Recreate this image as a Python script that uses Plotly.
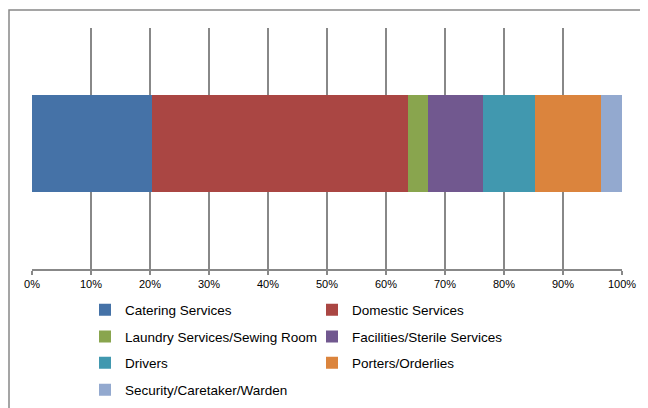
import plotly.graph_objects as go

categories = ["Catering Services", "Domestic Services", "Laundry Services/Sewing Room",
              "Facilities/Sterile Services", "Drivers", "Porters/Orderlies",
              "Security/Caretaker/Warden"]
values = [20.3, 43.4, 3.4, 9.3, 8.9, 11.1, 3.6]
colors = ["#4572A7", "#AA4643", "#89A54E", "#71588F", "#4198AF", "#DB843D", "#93A9CF"]
legend_ids = ["legend", "legend", "legend2", "legend2", "legend3", "legend3", "legend4"]
tick_vals = list(range(0, 101, 10))
tick_text = [f"{v}%" for v in tick_vals]

fig = go.Figure()
for name, val, col, lg in zip(categories, values, colors, legend_ids):
    fig.add_trace(go.Bar(x=[val], y=[0], orientation="h", name=name,
                         marker=dict(color=col, line=dict(width=0)),
                         width=0.4, legend=lg, hoverinfo="name+x"))

OFF = 8  # page body margin
W, H = 640, 400
# desired plot area in window pixels
PX0, PX1, PY0, PY1 = 32, 622, 28, 269
L, T = PX0 - OFF, PY0 - OFF
R = W - (PX1 - OFF)
B = H - (PY1 - OFF)
pw, ph = PX1 - PX0, PY1 - PY0

def px_x(p):
    return (p - PX0) / pw

def px_y(p):
    return (PY1 - p) / ph

leg_common = dict(orientation="h", xanchor="left", yanchor="middle",
                  traceorder="normal",
                  font=dict(family="Liberation Sans, Arial", size=13.5, color="#000"),
                  entrywidth=182, itemwidth=30, bgcolor="rgba(0,0,0,0)",
                  tracegroupgap=0)
rows_y = [310, 336.7, 363, 390]
lx = px_x(85)
fig.update_layout(
    barmode="stack",
    width=W, height=H,
    margin=dict(l=L, r=R, t=T, b=B, autoexpand=False),
    paper_bgcolor="white", plot_bgcolor="white",
    showlegend=True,
    legend=dict(x=lx, y=px_y(rows_y[0]), **leg_common),
    legend2=dict(x=lx, y=px_y(rows_y[1]), **leg_common),
    legend3=dict(x=lx, y=px_y(rows_y[2]), **leg_common),
    legend4=dict(x=lx, y=px_y(rows_y[3]), **leg_common),
    xaxis=dict(range=[0, 100], tickvals=tick_vals, ticktext=tick_text,
               showgrid=True, gridcolor="#888888", gridwidth=2,
               showline=True, linecolor="#888888", linewidth=2,
               ticks="outside", ticklen=4, tickcolor="#888888", tickwidth=2,
               tickfont=dict(family="Liberation Sans, Arial", size=11, color="#000"),
               zeroline=False, fixedrange=True),
    yaxis=dict(range=[-0.521, 0.479], showticklabels=False, showgrid=False,
               zeroline=False, showline=False, fixedrange=True),
    shapes=[dict(type="rect", xref="paper", yref="paper",
                 x0=px_x(9), x1=2, y0=-2, y1=px_y(10),
                 line=dict(color="#888888", width=1.5), fillcolor="rgba(0,0,0,0)",
                 layer="below")],
)

fig.write_html("out.html")
